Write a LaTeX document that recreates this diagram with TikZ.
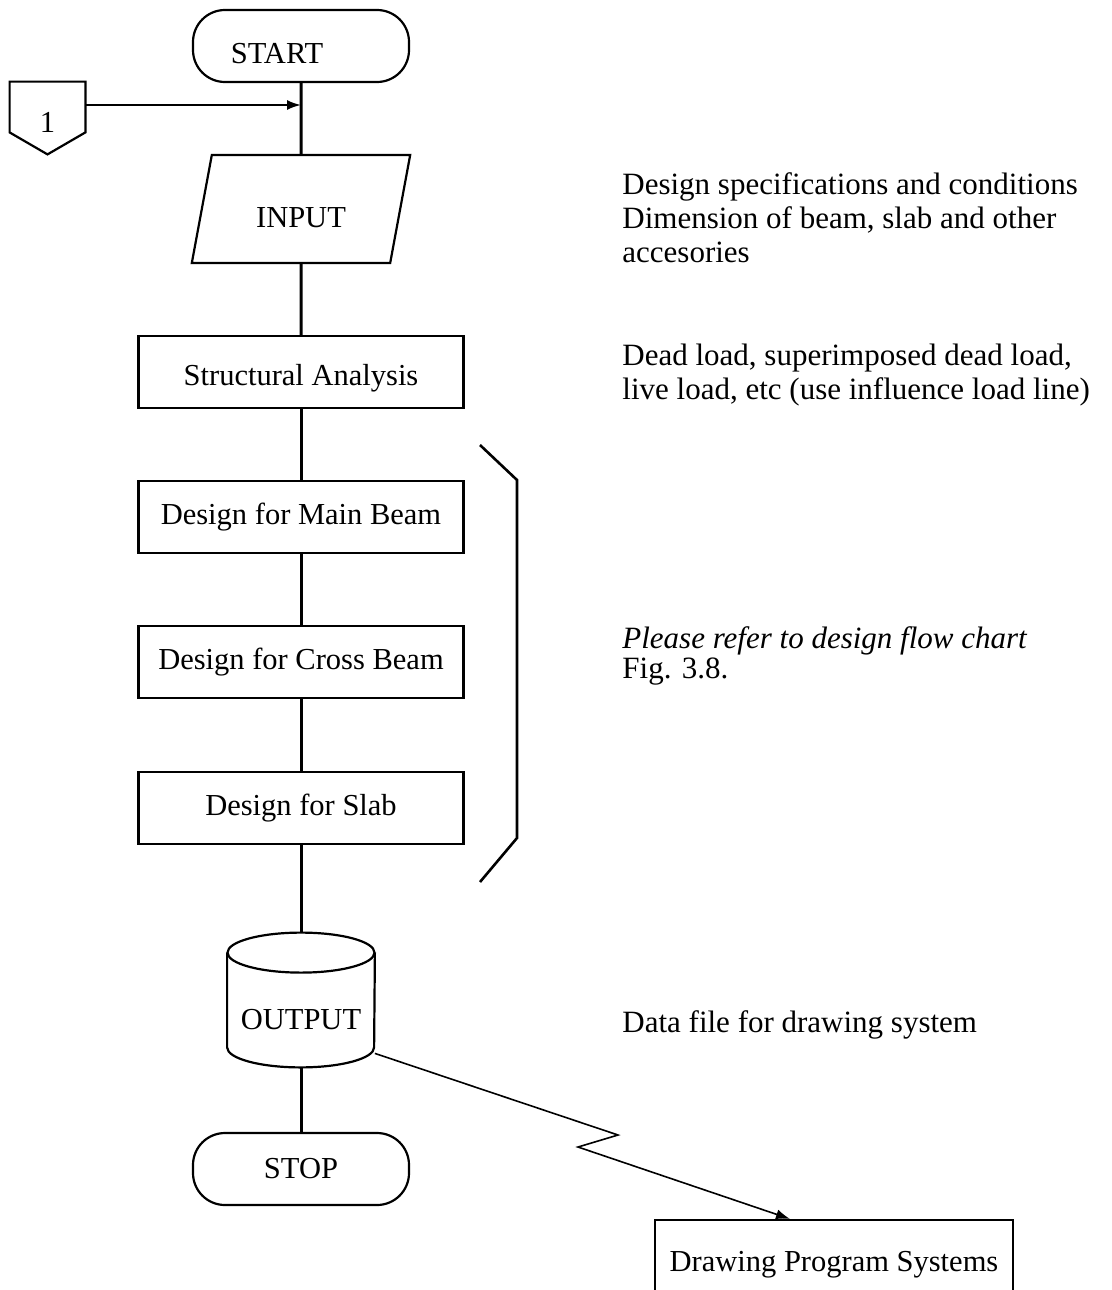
\documentclass[tikz,border=0pt]{standalone}
\usepackage{fontspec}
\setmainfont{Liberation Serif}
\usetikzlibrary{arrows.meta,shapes.geometric}

\begin{document}
\begin{tikzpicture}[x=0.5pt,y=-0.5pt,
	every node/.style={font=\fontsize{15.25}{17}\selectfont},
	term/.style={draw,line width=1.1pt,rounded corners=16pt,minimum width=108pt,minimum height=36pt},
	proc/.style={draw,line width=1.1pt,minimum width=162.5pt,minimum height=36pt},
	iobox/.style={draw,line width=1.1pt,trapezium,trapezium left angle=71,trapezium right angle=109,trapezium stretches=true,minimum width=109.5pt,minimum height=54pt},
	note/.style={anchor=west,align=left,inner sep=0pt,font=\fontsize{15.5}{17}\selectfont},
	flow/.style={line width=1.5pt},
	tip/.style={-{Latex[length=7pt,width=5pt]}}]
\useasboundingbox (0,0) rectangle (1112,1290);
\clip (0,0) rectangle (1112,1290);
\node[term] (start) at (301,46) {\raisebox{-4pt}[\height][\depth]{START}\hspace*{24pt}};
\node[iobox] (in) at (301,209) {\raisebox{-4.5pt}[\height][\depth]{INPUT}};
\node[proc] (sa) at (301,372) {\raisebox{-3pt}[\height][\depth]{Structural Analysis}};
\node[proc] (mb) at (301,517) {Design for Main Beam};
\node[proc] (cb) at (301,662) {Design for Cross Beam};
\node[proc] (sl) at (301,808) {Design for Slab};
\node[inner sep=0pt,minimum width=73.5pt,minimum height=67pt] (out) at (301,1000) {\raisebox{-10pt}[\height][\depth]{OUTPUT}};
\node[term] (stop) at (301,1169) {STOP};
\node[draw,line width=1.1pt,minimum width=179pt,minimum height=45pt] (drw) at (834,1265) {Drawing Program Systems};
\node[inner sep=0pt,minimum width=37.5pt,minimum height=36pt] (one) at (47.5,118) {\raisebox{-2pt}[\height][\depth]{1}};
\draw[line width=1.1pt] (one.north west) -- (one.north east) -- ([yshift=11pt]one.south east)
	-- (one.south) -- ([yshift=11pt]one.south west) -- cycle;
\draw[line width=1.1pt] ([yshift=-10pt]out.north) ellipse [x radius=36.75pt,y radius=10pt];
\draw[line width=1.1pt] ([yshift=-10pt]out.north west) -- ([yshift=10pt]out.south west)
	arc [start angle=180,end angle=360,x radius=36.75pt,y radius=10pt] -- ([yshift=-10pt]out.north east);
\foreach \a/\b in {start/in,in/sa,sa/mb,mb/cb,cb/sl,sl/out,out/stop} {
		\draw[flow] (\a.south) -- (\b.north);}
\coordinate (join) at (301,105);
\draw[line width=1pt,tip] (one.east |- join) -- (join);
\coordinate (kink1) at (618,1135);
\coordinate (kink2) at (578,1147);
\draw[line width=0.8pt,tip] ([yshift=7pt]out.south east) -- (kink1) -- (kink2) -- ([xshift=-22pt]drw.north);
\draw[line width=1.3pt] (480,445) -- (517,480) -- (517,838) -- (480,882);
\node[note] (spec) at (622,218) {Design specifications and conditions\\Dimension of beam, slab and other\\accesories};
\node[note] (load) at (622,375) {Dead load, superimposed dead load,\\live load, etc (use influence load line)};
\node[note,font=\fontsize{15.5}{15}\selectfont] (ref) at (622,656) {\textit{Please refer to design flow chart}\\Fig. 3.8.};
\node[note] (dat) at (622,1025) {Data file for drawing system};
\end{tikzpicture}
\end{document}
